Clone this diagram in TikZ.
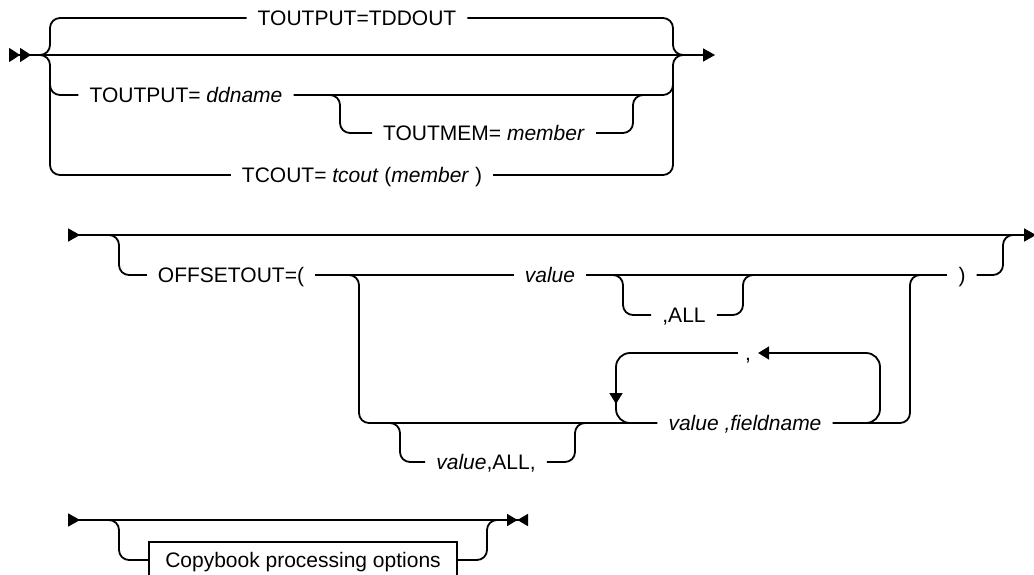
\documentclass[tikz,border=0pt]{standalone}
\usepackage{fontspec}
\setmainfont{Liberation Sans}
\usetikzlibrary{arrows.meta, positioning}

\begin{document}
\begin{tikzpicture}[x=1pt, y=-1pt, font=\fontsize{21}{25}\selectfont]
    % Styles
    \tikzstyle{rail} = [line width=1.8pt, rounded corners=10pt]
    \tikzstyle{word} = [inner xsep=11pt, inner ysep=0pt, text height=15pt, text depth=0pt]
    \tikzstyle{optbox} = [draw, line width=1.8pt, minimum width=308pt, minimum height=36pt, inner sep=0pt, text height=15pt, text depth=0pt]
    \tikzstyle{tip} = [Triangle[length=11pt, width=13pt, sep=0pt]]

    \useasboundingbox (0,0) rectangle (1034,575);

    % Output destination
    \node (tddout)  [word] at (357,18)  {TOUTPUT=TDDOUT};
    \node (ddname)  [word] at (186,95)  {TOUTPUT= \textit{ddname}};
    \node (toutmem) [word] at (484,133) {TOUTMEM= \textit{member}};
    \node (tcout)   [word] at (362,175) {TCOUT= \textit{tcout} (\textit{member} )};

    \coordinate (s1) at (9,55);
    \coordinate (e1) at (715,55);
    \draw [rail, {Triangle[reversed, length=11pt, width=14pt, sep=0pt]Triangle[reversed, length=11pt, width=14pt, sep=0pt]}-{Triangle[length=12pt, width=13pt]}] (s1) -- (e1);

    \draw [rail] (38,55) -| (50,18) -- (tddout.west);
    \draw [rail] (tddout.east) -| (673,55) -- (685,55);
    \draw [rail] (38,55) -| (50,175) -- (tcout.west);
    \draw [rail] (tcout.east) -| (673,55) -- (685,55);
    \draw [rail] (50,80) |- (ddname.west);
    \draw [rail] (ddname.east) -| (673,80);
    \draw [rail] (330,95) -| (340,133) -- (toutmem.west);
    \draw [rail] (toutmem.east) -| (633,95) -- (643,95);

    % Offsets
    \node (offset) [word] at (231,275) {OFFSETOUT=(};
    \node (value)  [word] at (550,275) {\textit{value}};
    \node (allopt) [word] at (684,315) {,ALL};
    \node (rparen) [word] at (962,275) {)};
    \node (comma)  [word, inner xsep=7pt] at (748,353) {,};
    \node (valfld) [word] at (745,423) {\textit{value ,fieldname}};
    \node (valall) [word] at (486,462) {\textit{value},ALL,};

    \coordinate (s2) at (68,235);
    \coordinate (e2) at (1036,235);
    \draw [rail, {Triangle[reversed, length=12pt, width=13pt]}-{Triangle[length=12pt, width=13pt]}] (s2) -- (e2);

    \draw [rail] (108,235) -| (119,275) -- (offset.west);
    \draw [rail] (offset.east) -- (value.west);
    \draw [rail] (value.east) -- (rparen.west);
    \draw [rail] (rparen.east) -| (1003,235) -- (1013,235);
    \draw [rail] (612,275) -| (623,315) -- (allopt.west);
    \draw [rail] (allopt.east) -| (743,275) -- (753,275);
    \draw [rail] (348,275) -| (359,423) -- (valfld.west);
    \draw [rail] (valfld.east) -| (910,275) -- (920,275);
    \draw [rail] (389,423) -| (400,462) -- (valall.west);
    \draw [rail] (valall.east) -| (575,423) -- (585,423);

    % Repeat loop
    \draw [rail, rounded corners=14pt, -{Triangle[length=11pt, width=13pt]}] (862,423) -| (880,353) -- (comma.east);
    \draw [rail, rounded corners=14pt, -{Triangle[length=11pt, width=13pt]}] (comma.west) -| (616,404);
    \draw [rail, rounded corners=14pt] (616,393) |- (636,423);

    % Copybook options
    \node (copybook) [optbox] at (303,560) {Copybook processing options};

    \coordinate (s3) at (68,520);
    \coordinate (e3) at (528,520);
    \draw [rail, {Triangle[reversed, length=12pt, width=13pt]}-{Triangle[length=10.5pt, width=12pt, sep=0pt]Triangle[reversed, length=10.5pt, width=12pt, sep=0pt]}] (s3) -- (e3);

    \draw [rail] (108,520) -| (119,560) -- (copybook.west);
    \draw [rail] (copybook.east) -| (487,520) -- (497,520);

\end{tikzpicture}
\end{document}
